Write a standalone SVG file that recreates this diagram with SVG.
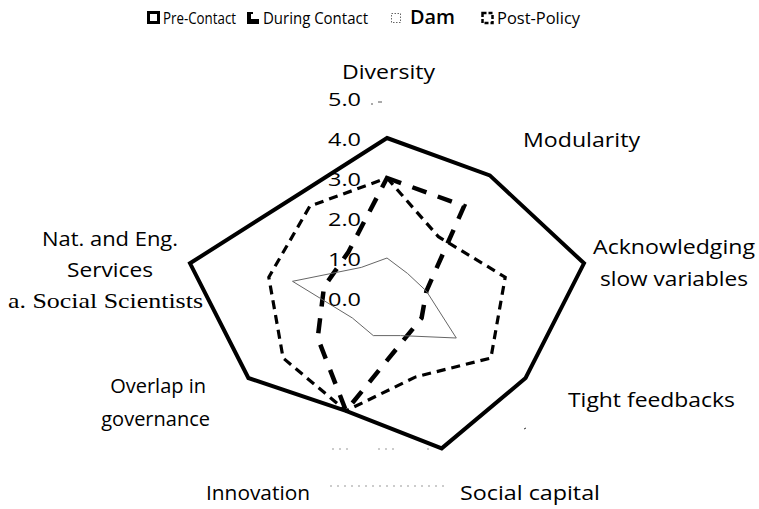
<svg xmlns="http://www.w3.org/2000/svg" width="759" height="509" viewBox="0 0 759 509">
<style>
text{font-family:"Open Sans","Liberation Sans",sans-serif;fill:#000}
.lg{font-size:16px}
.ax{font-size:20px}
.end{text-anchor:end}
.tk{font-size:19px;text-anchor:end}
.serif{font-family:"Liberation Serif",serif;font-size:21px}
.s{fill:none;stroke:#000;stroke-linejoin:miter}
.pre{stroke-width:4}
.post{stroke-width:3.2;stroke-dasharray:9 6}
.dur{stroke-width:4.5;stroke-dasharray:15 12}
.dam{fill:none;stroke:#666;stroke-width:1}
.faint{stroke:#999;stroke-width:1;fill:none}
</style>
<rect width="759" height="509" fill="#fff"/>
<g id="legend">
<rect x="148.5" y="12.5" width="10" height="10" fill="#fff" stroke="#000" stroke-width="3"/>
<text class="lg" x="163" y="24" textLength="73" lengthAdjust="spacingAndGlyphs">Pre-Contact</text>
<rect x="247" y="12" width="4" height="12"/><rect x="251" y="19" width="8" height="5"/><rect x="251" y="12" width="2" height="2"/>
<text class="lg" x="263" y="24" textLength="105" lengthAdjust="spacingAndGlyphs">During Contact</text>
<rect x="391.5" y="13.5" width="9" height="9" fill="none" stroke="#666" stroke-width="1" stroke-dasharray="1.5 1.5"/>
<text class="lg" x="410" y="24" style="font-size:19px;font-weight:600" textLength="45" lengthAdjust="spacingAndGlyphs">Dam</text>
<rect x="482.5" y="13" width="10" height="10" fill="none" stroke="#000" stroke-width="2.5" stroke-dasharray="4 2"/>
<text class="lg" x="497" y="24" textLength="83" lengthAdjust="spacingAndGlyphs">Post-Policy</text>
</g>
<g id="series">
<polygon id="pre-contact" class="s pre" points="387,138 489.8,175.4 584,263.3 525.6,378 441.7,448.4 346,410.8 248.4,378 190,263.3 299.6,193.8"/>
<polygon id="post-policy" class="s post" points="387,178 438.4,236.7 505.2,277.2 490.9,358 415.7,376.9 346,410.8 283.1,358 268.8,277.2 309.9,206.1"/>
<polygon id="during-contact" class="s dur" points="387,178 464.1,206.1 426.4,291.1 421.6,318 402.7,341.2 346,410.8 317.7,338 324,286.9 348.4,252"/>
<polygon id="dam" class="dam" points="387,258 407.6,273.5 426.4,291.1 456.3,338 400.7,335.6 373.3,335.6 352.4,318 292.5,281.3 361.3,267.4"/>
</g>
<g id="marks" class="faint">
<path d="M371,104h2M378,102h4" stroke="#555"/>
<path d="M330,486H445M332,449H350M378,449H397M427,449H432" stroke-dasharray="2 5"/>
<path d="M524,429l2,-1" stroke="#333"/>
</g>
<g id="ticks">
<text class="tk" x="361" y="106" textLength="33" lengthAdjust="spacingAndGlyphs">5.0</text>
<text class="tk" x="361" y="146" textLength="33" lengthAdjust="spacingAndGlyphs">4.0</text>
<text class="tk" x="361" y="186" textLength="33" lengthAdjust="spacingAndGlyphs">3.0</text>
<text class="tk" x="361" y="226" textLength="33" lengthAdjust="spacingAndGlyphs">2.0</text>
<text class="tk" x="361" y="266" textLength="33" lengthAdjust="spacingAndGlyphs">1.0</text>
<text class="tk" x="361" y="306" textLength="33" lengthAdjust="spacingAndGlyphs">0.0</text>
</g>
<g id="axis-labels">
<g id="lbl-diversity"><text class="ax" x="342" y="79" textLength="93" lengthAdjust="spacingAndGlyphs">Diversity</text></g>
<g id="lbl-modularity"><text class="ax" x="523" y="147" textLength="117" lengthAdjust="spacingAndGlyphs">Modularity</text></g>
<g id="lbl-slow"><text class="ax" x="593" y="254" textLength="162" lengthAdjust="spacingAndGlyphs">Acknowledging</text>
<text class="ax" x="600" y="286" textLength="148" lengthAdjust="spacingAndGlyphs">slow variables</text></g>
<g id="lbl-feedbacks"><text class="ax" x="568" y="407" textLength="167" lengthAdjust="spacingAndGlyphs">Tight feedbacks</text></g>
<g id="lbl-social"><text class="ax" x="460" y="500" textLength="140" lengthAdjust="spacingAndGlyphs">Social capital</text></g>
<g id="lbl-innovation"><text class="ax" x="206" y="500" textLength="104" lengthAdjust="spacingAndGlyphs">Innovation</text></g>
<g id="lbl-overlap"><text class="ax end" x="206" y="393">Overlap in</text>
<text class="ax end" x="210" y="426">governance</text></g>
<g id="lbl-nat"><text class="ax" x="42" y="246" textLength="136" lengthAdjust="spacingAndGlyphs">Nat. and Eng.</text>
<text class="ax" x="67" y="277" textLength="86" lengthAdjust="spacingAndGlyphs">Services</text>
<text class="serif" x="8" y="308" textLength="195" lengthAdjust="spacingAndGlyphs">a. Social Scientists</text></g>
</g>
</svg>
